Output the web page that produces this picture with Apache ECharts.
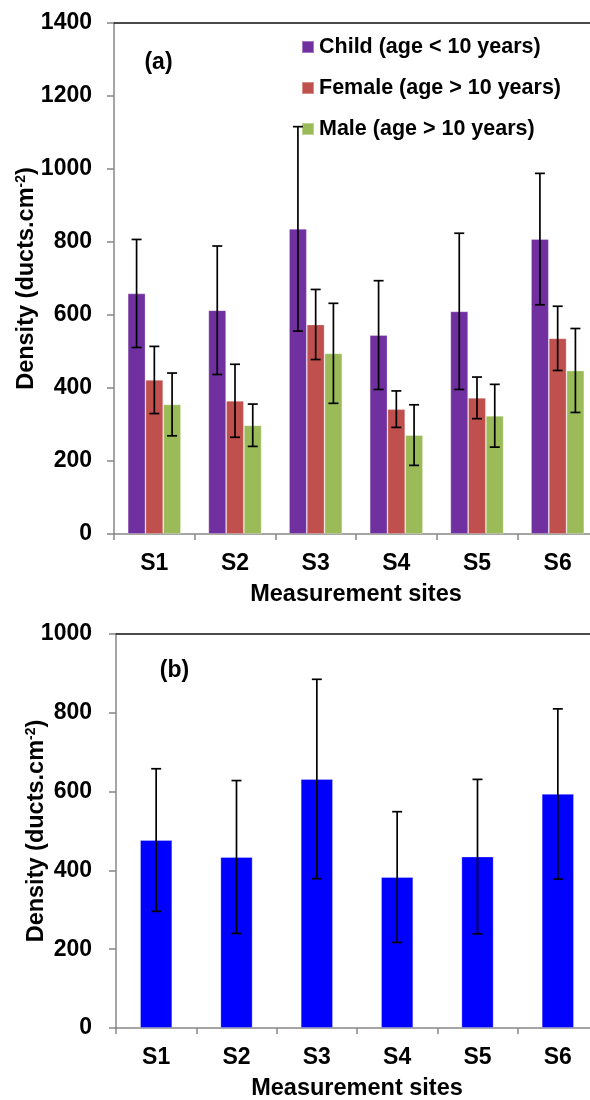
<!DOCTYPE html>
<html>
<head>
<meta charset="utf-8">
<script src="https://cdn.jsdelivr.net/npm/echarts@6/dist/echarts.min.js"></script>
<style>
html,body{margin:0;padding:0;background:#fff;}
#chart{width:590px;height:1100px;}
</style>
</head>
<body>
<div id="chart"></div>
<script>
const categories = ['S1', 'S2', 'S3', 'S4', 'S5', 'S6'];
const seriesNames = ['Child (age < 10 years)', 'Female (age > 10 years)', 'Male (age > 10 years)'];
const childMean = [659, 613, 836, 545, 610, 808];
const childErr = [148, 176, 280, 149, 214, 180];
const femaleMean = [422, 365, 574, 342, 373, 536];
const femaleErr = [92, 100, 96, 50, 57, 88];
const maleMean = [355, 298, 495, 271, 324, 448];
const maleErr = [86, 58, 137, 83, 86, 115];
const allMean = [477, 434, 632, 383, 435, 594];
const allErr = [181, 194, 253, 166, 196, 216];
const axisAMax = 1400;
const axisBMax = 1000;
const axisInterval = 200;

const FONT = "'Liberation Sans', Arial, sans-serif";
const colors = ['#7030A0', '#C0504D', '#9BBB59'];
const blue = '#0000FF';
const TOP_GAP = 0.34;
const BOT_GAP = 0.60;

function errData(mean, err) {
  return mean.map((m, i) => [i, m - err[i], m + err[i]]);
}

function errRender(offsetIndex, nBars, gap) {
  return function (params, api) {
    const x = api.value(0);
    const lo = api.coord([x, api.value(1)]);
    const hi = api.coord([x, api.value(2)]);
    const band = api.size([1, 0])[0];
    const barW = band * (1 - gap) / nBars;
    const cx = lo[0] + (offsetIndex - (nBars - 1) / 2) * barW;
    const cap = 5;
    const st = { stroke: '#000', lineWidth: 1.7 };
    return {
      type: 'group',
      children: [
        { type: 'line', shape: { x1: cx, y1: lo[1], x2: cx, y2: hi[1] }, style: st },
        { type: 'line', shape: { x1: cx - cap, y1: hi[1], x2: cx + cap, y2: hi[1] }, style: st },
        { type: 'line', shape: { x1: cx - cap, y1: lo[1], x2: cx + cap, y2: lo[1] }, style: st }
      ]
    };
  };
}

const labelStyle = { color: '#000', fontWeight: 'bold', fontSize: 23, fontFamily: FONT };
const grayLine = { color: '#878787', width: 1.5 };

function yName() {
  return '{t|Density (ducts.cm}{s|-2}{t|)}';
}
const yNameStyle = {
  color: '#000', fontWeight: 'bold', fontFamily: FONT, fontSize: 23.5,
  rich: {
    t: { fontSize: 23.5, fontWeight: 'bold', fontFamily: FONT, color: '#000', lineHeight: 26 },
    s: { fontSize: 14, fontWeight: 'bold', fontFamily: FONT, color: '#000', verticalAlign: 'top', lineHeight: 26 }
  }
};

function xBottom(gridIndex) {
  return {
    type: 'category', gridIndex: gridIndex, data: categories, position: 'bottom',
    axisLine: { show: true, lineStyle: grayLine },
    axisTick: { show: true, length: 6, lineStyle: grayLine },
    axisLabel: Object.assign({ margin: 18 }, labelStyle),
    name: 'Measurement sites', nameLocation: 'middle', nameGap: 49, nameMoveOverlap: false,
    nameTextStyle: { color: '#000', fontWeight: 'bold', fontSize: 23.5, fontFamily: FONT },
    splitLine: { show: false }
  };
}
function xTop(gridIndex) {
  return {
    type: 'category', gridIndex: gridIndex, data: categories, position: 'top',
    axisLine: { show: true, lineStyle: { color: '#111', width: 1.5 } },
    axisTick: { show: false }, axisLabel: { show: false }, splitLine: { show: false }
  };
}
function yAxis(gridIndex, max, gap, margin) {
  return {
    type: 'value', gridIndex: gridIndex, min: 0, max: max, interval: axisInterval,
    axisLine: { show: true, lineStyle: grayLine },
    axisTick: { show: true, length: 7, lineStyle: grayLine },
    axisLabel: Object.assign({ margin: margin, formatter: (v) => String(v) }, labelStyle),
    splitLine: { show: false },
    name: yName(), nameLocation: 'middle', nameGap: gap, nameRotate: 90, nameMoveOverlap: false,
    nameTextStyle: yNameStyle
  };
}

const chart = echarts.init(document.getElementById('chart'), null, { renderer: 'canvas' });
const meansTop = [childMean, femaleMean, maleMean];
const errsTop = [childErr, femaleErr, maleErr];

const series = [];
meansTop.forEach((m, k) => {
  series.push({
    name: seriesNames[k], type: 'bar', xAxisIndex: 0, yAxisIndex: 0,
    data: m, barGap: '0%', barCategoryGap: (TOP_GAP * 100) + '%',
    itemStyle: { color: colors[k], borderColor: 'rgba(255,255,255,0.35)', borderWidth: 0.8 },
    emphasis: { disabled: true }
  });
});
meansTop.forEach((m, k) => {
  series.push({
    type: 'custom', xAxisIndex: 0, yAxisIndex: 0, z: 5,
    renderItem: errRender(k, 3, TOP_GAP),
    encode: { x: 0, y: [1, 2] },
    data: errData(m, errsTop[k])
  });
});
series.push({
  name: 'All', type: 'bar', xAxisIndex: 2, yAxisIndex: 1, data: allMean,
  barCategoryGap: (BOT_GAP * 100) + '%',
  itemStyle: { color: blue, borderColor: 'rgba(255,255,255,0.35)', borderWidth: 0.8 },
  emphasis: { disabled: true }
});
series.push({
  type: 'custom', xAxisIndex: 2, yAxisIndex: 1, z: 5,
  renderItem: errRender(0, 1, BOT_GAP),
  encode: { x: 0, y: [1, 2] },
  data: errData(allMean, allErr)
});

chart.setOption({
  animation: false,
  backgroundColor: '#fff',
  textStyle: { fontFamily: FONT },
  grid: [
    { left: 114, top: 23, width: 484, height: 511, containLabel: false, outerBoundsMode: 'none' },
    { left: 116, top: 634, width: 482, height: 394, containLabel: false, outerBoundsMode: 'none' }
  ],
  legend: {
    data: seriesNames, orient: 'vertical', left: 296, top: 31,
    itemGap: 19, itemWidth: 12, itemHeight: 12, icon: 'rect',
    textStyle: { color: '#000', fontWeight: 'bold', fontSize: 21.5, fontFamily: FONT }
  },
  xAxis: [xBottom(0), xTop(0), xBottom(1), xTop(1)],
  yAxis: [yAxis(0, axisAMax, 74, 22), yAxis(1, axisBMax, 66, 24)],
  graphic: [
    { type: 'text', x: 158.5, y: 63, style: { text: '(a)', font: "bold 23px 'Liberation Sans', Arial, sans-serif", fill: '#000', align: 'center', verticalAlign: 'middle' } },
    { type: 'text', x: 174.5, y: 671, style: { text: '(b)', font: "bold 23px 'Liberation Sans', Arial, sans-serif", fill: '#000', align: 'center', verticalAlign: 'middle' } }
  ],
  series: series
});
</script>
</body>
</html>
